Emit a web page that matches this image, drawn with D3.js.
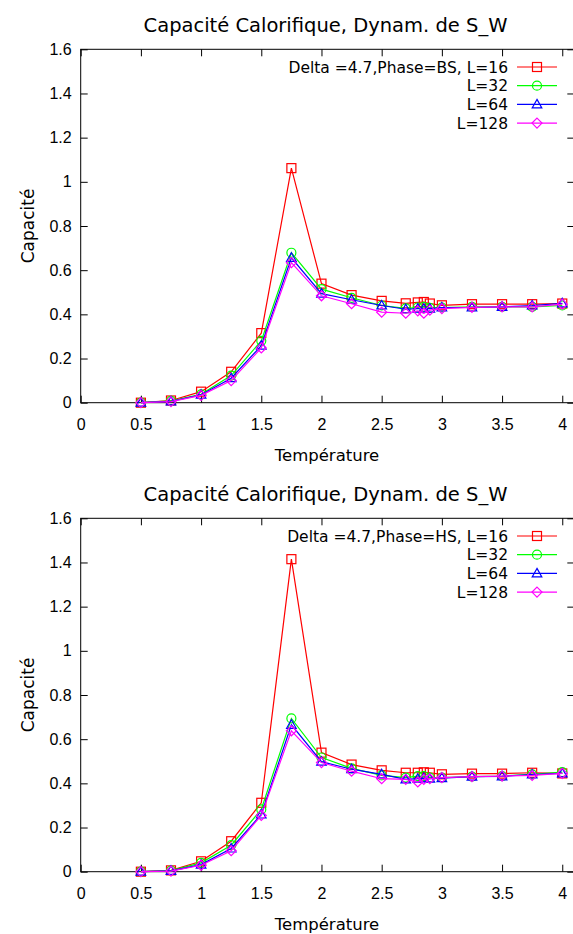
<!DOCTYPE html>
<html>
<head>
<meta charset="utf-8">
<script src="https://cdn.jsdelivr.net/npm/d3@7"></script>
<style>
  body { margin: 0; background: #fff; }
  svg { display: block; font-family: "DejaVu Sans", Verdana, sans-serif; }
  .axis path { display: none; }
  .axis line { stroke: #000; stroke-width: 1; }
  .axis text { font-size: 16px; fill: #000; }
</style>
</head>
<body>
<svg id="chart" width="573" height="934"></svg>
<script>
// temperatures (shared by all series)
const temps = [0.5, 0.75, 1.0, 1.25, 1.5, 1.75, 2.0, 2.25, 2.5, 2.7, 2.8, 2.85, 2.9, 3.0, 3.25, 3.5, 3.75, 4.0];

// Phase = BS
const bs_L16  = [0.0, 0.010, 0.050, 0.140, 0.315, 1.062, 0.539, 0.487, 0.461, 0.450, 0.454, 0.456, 0.449, 0.441, 0.446, 0.446, 0.446, 0.449];
const bs_L32  = [0.0, 0.008, 0.038, 0.123, 0.280, 0.679, 0.514, 0.475, 0.440, 0.427, 0.431, 0.434, 0.429, 0.431, 0.434, 0.434, 0.434, 0.440];
const bs_L64  = [0.0, 0.006, 0.036, 0.111, 0.258, 0.656, 0.494, 0.466, 0.440, 0.423, 0.426, 0.426, 0.426, 0.431, 0.431, 0.434, 0.440, 0.450];
const bs_L128 = [0.0, 0.005, 0.033, 0.100, 0.248, 0.634, 0.484, 0.448, 0.410, 0.405, 0.416, 0.405, 0.419, 0.426, 0.432, 0.434, 0.434, 0.446];

// Phase = HS
const hs_L16  = [0.0, 0.006, 0.047, 0.138, 0.312, 1.415, 0.539, 0.485, 0.459, 0.448, 0.448, 0.450, 0.448, 0.441, 0.444, 0.444, 0.448, 0.445];
const hs_L32  = [0.0, 0.005, 0.040, 0.120, 0.282, 0.694, 0.517, 0.468, 0.436, 0.426, 0.433, 0.433, 0.426, 0.426, 0.430, 0.433, 0.441, 0.451];
const hs_L64  = [0.0, 0.004, 0.032, 0.105, 0.259, 0.665, 0.498, 0.464, 0.441, 0.418, 0.421, 0.424, 0.421, 0.424, 0.430, 0.432, 0.440, 0.445];
const hs_L128 = [0.0, 0.003, 0.029, 0.095, 0.255, 0.638, 0.494, 0.455, 0.421, 0.418, 0.406, 0.418, 0.421, 0.426, 0.430, 0.433, 0.436, 0.445];

const seriesNames = ["L=16", "L=32", "L=64", "L=128"];
const colors = ["#ff0000", "#00ff00", "#0000ff", "#ff00ff"];
const markers = ["square", "circle", "triangle", "diamond"];
const xTicks = [0, 0.5, 1, 1.5, 2, 2.5, 3, 3.5, 4];
const yTicks = [0, 0.2, 0.4, 0.6, 0.8, 1, 1.2, 1.4, 1.6];

const title = "Capacité Calorifique, Dynam. de S_W";

var svg = d3.select("#chart");

function drawMarker(g, kind, cx, cy, color) {
    if (kind == "square") {
        g.append("rect").attr("x", cx - 4.5).attr("y", cy - 4.5)
            .attr("width", 9).attr("height", 9);
    } else if (kind == "circle") {
        g.append("circle").attr("cx", cx).attr("cy", cy).attr("r", 4.5);
    } else if (kind == "triangle") {
        g.append("path").attr("d", "M" + cx + "," + (cy - 5) + "L" + (cx + 4.8) + "," + (cy + 3.5) + "L" + (cx - 4.8) + "," + (cy + 3.5) + "Z");
    } else {
        g.append("path").attr("d", "M" + cx + "," + (cy - 5) + "L" + (cx + 5) + "," + cy + "L" + cx + "," + (cy + 5) + "L" + (cx - 5) + "," + cy + "Z");
    }
    g.selectAll("*").attr("fill", "none").attr("stroke", color).attr("stroke-width", 1.2);
}

function drawPanel(offsetY, seriesList, phase) {
    var left = 80.7, right = 574.3, top = 49.3 + offsetY, bottom = 402.7 + offsetY;
    var panel = svg.append("g");

    var x = d3.scaleLinear().domain([0, 4.1]).range([left, right]);
    var y = d3.scaleLinear().domain([0, 1.6]).range([bottom, top]);

    // title
    panel.append("text")
        .attr("x", 325.5).attr("y", offsetY + 32)
        .attr("text-anchor", "middle")
        .style("font-size", "19.5px")
        .text(title);

    // border box
    panel.append("rect")
        .attr("x", left).attr("y", top)
        .attr("width", right - left).attr("height", bottom - top)
        .attr("fill", "none").attr("stroke", "#000").attr("stroke-width", 1);

    // axes with inward ticks
    panel.append("g").attr("class", "axis")
        .attr("transform", "translate(0," + bottom + ")")
        .call(d3.axisBottom(x).tickValues(xTicks).tickSize(-7).tickPadding(16).tickFormat(d3.format("")));
    panel.append("g").attr("class", "axis")
        .attr("transform", "translate(0," + top + ")")
        .call(d3.axisTop(x).tickValues(xTicks).tickSize(-7).tickFormat(""));
    panel.append("g").attr("class", "axis")
        .attr("transform", "translate(" + left + ",0)")
        .call(d3.axisLeft(y).tickValues(yTicks).tickSize(-7).tickPadding(9).tickFormat(d3.format("")));
    panel.append("g").attr("class", "axis")
        .attr("transform", "translate(" + right + ",0)")
        .call(d3.axisRight(y).tickValues(yTicks).tickSize(-7).tickFormat(""));

    // axis labels
    panel.append("text")
        .attr("x", 327).attr("y", offsetY + 461)
        .attr("text-anchor", "middle")
        .style("font-size", "16.5px")
        .text("Température");
    panel.append("text")
        .attr("transform", "translate(34," + ((top + bottom) / 2) + ") rotate(-90)")
        .attr("text-anchor", "middle")
        .style("font-size", "17px")
        .text("Capacité");

    var line = d3.line()
        .x(function (d) { return x(d[0]); })
        .y(function (d) { return y(d[1]); });

    seriesList.forEach(function (vals, i) {
        var pts = temps.map(function (t, j) { return [t, vals[j]]; });
        panel.append("path")
            .datum(pts)
            .attr("fill", "none")
            .attr("stroke", colors[i])
            .attr("stroke-width", 1.2)
            .attr("d", line);
        pts.forEach(function (p) {
            drawMarker(panel.append("g"), markers[i], x(p[0]), y(p[1]), colors[i]);
        });

        // legend row
        var ly = offsetY + 67 + i * 18.7;
        var label = (i == 0 ? "Delta =4.7,Phase=" + phase + ", " : "") + seriesNames[i];
        panel.append("text")
            .attr("x", 508).attr("y", ly).attr("dy", "0.36em")
            .attr("text-anchor", "end")
            .style("font-size", "15.5px")
            .text(label);
        panel.append("line")
            .attr("x1", 517).attr("x2", 557).attr("y1", ly).attr("y2", ly)
            .attr("stroke", colors[i]).attr("stroke-width", 1.2);
        drawMarker(panel.append("g"), markers[i], 537, ly, colors[i]);
    });
}

drawPanel(0, [bs_L16, bs_L32, bs_L64, bs_L128], "BS");
drawPanel(469, [hs_L16, hs_L32, hs_L64, hs_L128], "HS");
</script>
</body>
</html>
